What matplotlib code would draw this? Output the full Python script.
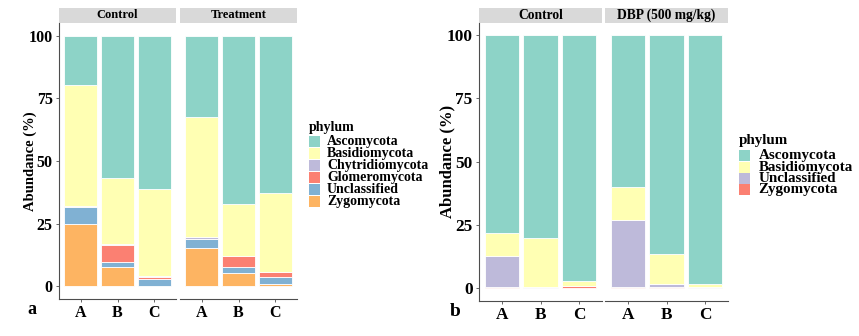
import matplotlib
matplotlib.use('Agg')
import matplotlib.pyplot as plt
from matplotlib.patches import Rectangle

plt.rcParams['font.family'] = 'Liberation Serif'
plt.rcParams['font.weight'] = 'bold'
plt.rcParams['axes.labelweight'] = 'bold'

# samples within each facet
samples = ['A', 'B', 'C']

# panel a: Control A,B,C then Treatment A,B,C
facets_a = ['Control', 'Treatment']
phyla_a = ['Ascomycota', 'Basidiomycota', 'Chytridiomycota', 'Glomeromycota', 'Unclassified', 'Zygomycota']
colors_a = ['#8DD3C7', '#FFFFB3', '#BEBADA', '#FB8072', '#80B1D3', '#FDB462']
asco_a = [19.7, 56.8, 61.3, 32.6, 67.0, 62.8]
basid_a = [48.3, 26.2, 34.7, 47.7, 20.7, 31.4]
chyt_a = [0.4, 0.4, 0.1, 0.6, 0.2, 0.2]
glom_a = [0.0, 6.8, 1.0, 0.0, 4.5, 1.9]
uncl_a = [6.9, 2.0, 2.6, 3.7, 2.4, 2.7]
zygo_a = [24.7, 7.8, 0.3, 15.4, 5.2, 1.0]

# panel b: Control A,B,C then DBP A,B,C
facets_b = ['Control', 'DBP (500 mg/kg)']
phyla_b = ['Ascomycota', 'Basidiomycota', 'Unclassified', 'Zygomycota']
colors_b = ['#8DD3C7', '#FFFFB3', '#BEBADA', '#FB8072']
asco_b = [78.4, 80.2, 97.4, 60.0, 86.7, 98.5]
basid_b = [8.8, 19.5, 1.9, 13.1, 11.7, 1.2]
uncl_b = [12.5, 0.3, 0.1, 26.7, 1.4, 0.3]
zygo_b = [0.3, 0.0, 0.6, 0.2, 0.2, 0.0]

W, H = 859, 336
fig = plt.figure(figsize=(W / 100, H / 100), dpi=100)
AXC = '#4D4D4D'


def fx(x):
    return x / W


def fy(y):
    return 1 - y / H


def px_axes(x0, x1, y0, y1):
    return fig.add_axes([fx(x0), fy(y1), (x1 - x0) / W, (y1 - y0) / H])


def draw_panel(xranges, y_top, y_bot, strip_top, facets, series, colors, phyla,
               letter, letter_xy, legend_xy, row_h, ylab_x, ylab_fs, fs):
    for k, (x0, x1) in enumerate(xranges):
        ax = px_axes(x0, x1, y_top, y_bot)
        bottom = [0.0, 0.0, 0.0]
        # stack from the last phylum (bottom) up to the first (top)
        for vals, col in zip(series[::-1], colors[::-1]):
            v = vals[3 * k:3 * k + 3]
            ax.bar(range(3), v, bottom=bottom, width=0.9, color=col,
                   edgecolor='white', linewidth=0.6)
            bottom = [b + x for b, x in zip(bottom, v)]
        ax.set_xlim(-0.6, 2.6)
        ax.set_ylim(-5, 105)
        ax.set_xticks(range(3))
        ax.set_xticklabels(samples, fontsize=11.5 * fs)
        for s in ['top', 'right']:
            ax.spines[s].set_visible(False)
        ax.spines['bottom'].set_color(AXC)
        ax.spines['left'].set_color(AXC)
        ax.tick_params(colors=AXC, length=2.5, width=0.6, labelcolor='black', pad=2)
        if k == 0:
            ax.set_yticks([0, 25, 50, 75, 100])
            ax.set_yticklabels(['0', '25', '50', '75', '100'], fontsize=11.5 * fs)
            ax.set_ylabel('Abundance (%)', fontsize=ylab_fs, va='center')
            ax.yaxis.set_label_coords((ylab_x - x0) / (x1 - x0), 0.5)
        else:
            ax.spines['left'].set_visible(False)
            ax.set_yticks([])
        # facet strip
        sh = (y_top - strip_top) / (y_bot - y_top)
        ax.add_patch(Rectangle((0, 1.0), 1, sh, transform=ax.transAxes,
                               facecolor='#D9D9D9', edgecolor='none', clip_on=False))
        ax.text(0.5, 1.0 + sh / 2, facets[k], transform=ax.transAxes,
                ha='center', va='center', fontsize=9 * fs)
    fig.text(fx(letter_xy[0]), fy(letter_xy[1]), letter, fontsize=13 * fs,
             ha='center', va='center')
    # legend: title, then one coloured key per phylum
    lx, ly = legend_xy
    fig.text(fx(lx), fy(ly), 'phylum', fontsize=10 * fs, ha='left', va='center')
    for i, (p, c) in enumerate(zip(phyla, colors)):
        yc = ly + 14.5 * fs + row_h * i
        fig.add_artist(Rectangle((fx(lx), fy(yc + 5.5)), 11 / W, 11 / H,
                                 transform=fig.transFigure, facecolor=c, edgecolor='none'))
        fig.text(fx(lx + 18 * fs), fy(yc), p, fontsize=10 * fs, ha='left', va='center')


draw_panel([(59, 176), (180, 297)], 23, 299, 8, facets_a,
           [asco_a, basid_a, chyt_a, glom_a, uncl_a, zygo_a], colors_a, phyla_a,
           'a', (32, 309), (309, 127), 11.9, 30.5, 10.5, 1.0)
draw_panel([(479, 602), (605, 728)], 22.7, 300.5, 8.3, facets_b,
           [asco_b, basid_b, uncl_b, zygo_b], colors_b, phyla_b,
           'b', (455, 311), (739, 140), 11.4, 447, 12.0, 1.08)

fig.savefig('out.png', dpi=100)
